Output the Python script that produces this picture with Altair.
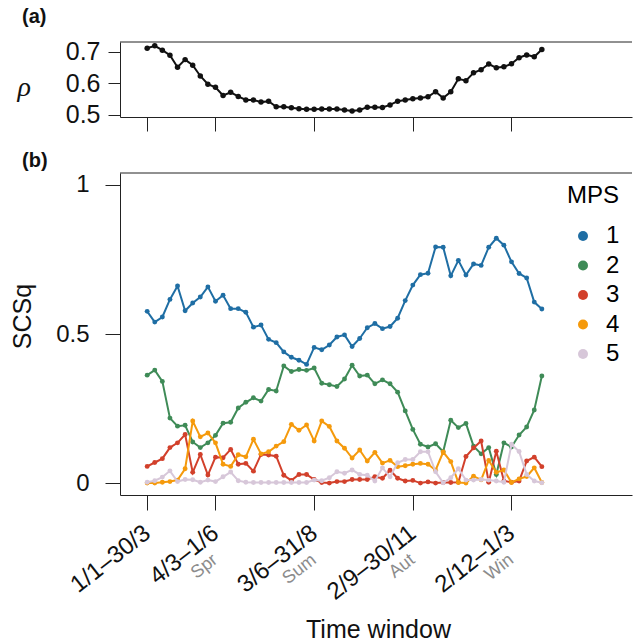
import altair as alt
import pandas as pd

# ---------------- data ----------------
idx = list(range(53))

rho = [0.711, 0.719, 0.705, 0.689, 0.651, 0.675, 0.657, 0.623, 0.597, 0.587,
       0.561, 0.571, 0.558, 0.547, 0.547, 0.540, 0.543, 0.525, 0.525, 0.522,
       0.519, 0.517, 0.517, 0.518, 0.518, 0.518, 0.515, 0.512, 0.515, 0.524,
       0.524, 0.523, 0.531, 0.543, 0.547, 0.551, 0.553, 0.557, 0.573, 0.553,
       0.573, 0.614, 0.608, 0.633, 0.643, 0.661, 0.649, 0.652, 0.662, 0.681,
       0.690, 0.684, 0.707]

mps1 = [0.576, 0.540, 0.557, 0.616, 0.661, 0.578, 0.604, 0.624, 0.658, 0.610,
        0.630, 0.585, 0.585, 0.573, 0.523, 0.530, 0.482, 0.471, 0.440, 0.422,
        0.412, 0.398, 0.455, 0.447, 0.463, 0.490, 0.497, 0.458, 0.485, 0.521,
        0.535, 0.518, 0.525, 0.553, 0.612, 0.664, 0.699, 0.704, 0.792, 0.791,
        0.695, 0.747, 0.698, 0.735, 0.730, 0.791, 0.821, 0.798, 0.742, 0.703,
        0.688, 0.607, 0.584]

mps2 = [0.362, 0.379, 0.341, 0.218, 0.191, 0.194, 0.138, 0.119, 0.135, 0.160,
        0.201, 0.204, 0.252, 0.271, 0.286, 0.275, 0.314, 0.309, 0.393, 0.374,
        0.381, 0.378, 0.386, 0.335, 0.330, 0.324, 0.349, 0.395, 0.359, 0.362,
        0.333, 0.346, 0.333, 0.305, 0.242, 0.180, 0.130, 0.121, 0.132, 0.105,
        0.211, 0.186, 0.200, 0.124, 0.098, 0.119, 0.029, 0.135, 0.121, 0.161,
        0.188, 0.245, 0.359]

mps3 = [0.056, 0.069, 0.082, 0.119, 0.135, 0.163, 0.036, 0.096, 0.027, 0.087,
        0.085, 0.113, 0.063, 0.066, 0.040, 0.096, 0.094, 0.090, 0.026, 0.009,
        0.029, 0.029, 0.012, 0.002, 0.000, 0.005, 0.005, 0.012, 0.012, 0.012,
        0.021, 0.016, 0.043, 0.016, 0.007, 0.009, 0.000, 0.004, 0.000, 0.002,
        0.002, 0.003, 0.089, 0.118, 0.141, 0.003, 0.107, 0.007, 0.003, 0.007,
        0.074, 0.087, 0.055]

mps4 = [0.000, 0.000, 0.003, 0.005, 0.010, 0.048, 0.208, 0.155, 0.168, 0.135,
        0.063, 0.056, 0.095, 0.088, 0.147, 0.098, 0.105, 0.124, 0.139, 0.197,
        0.177, 0.195, 0.141, 0.208, 0.190, 0.141, 0.117, 0.084, 0.111, 0.074,
        0.103, 0.067, 0.076, 0.055, 0.058, 0.063, 0.066, 0.063, 0.043, 0.104,
        0.072, 0.002, 0.000, 0.023, 0.011, 0.076, 0.036, 0.044, 0.002, 0.014,
        0.022, 0.051, 0.002]

mps5 = [0.003, 0.008, 0.020, 0.041, 0.005, 0.012, 0.011, 0.003, 0.010, 0.005,
        0.021, 0.037, 0.008, 0.003, 0.002, 0.002, 0.002, 0.002, 0.002, 0.002,
        0.002, 0.002, 0.010, 0.008, 0.018, 0.038, 0.033, 0.044, 0.029, 0.026,
        0.007, 0.051, 0.021, 0.068, 0.079, 0.079, 0.105, 0.105, 0.038, 0.001,
        0.018, 0.048, 0.010, 0.010, 0.012, 0.010, 0.007, 0.003, 0.130, 0.106,
        0.029, 0.007, 0.001]

mps_names = ["1", "2", "3", "4", "5"]
mps_values = [mps1, mps2, mps3, mps4, mps5]
mps_colors = ["#1f6ea4", "#3f8b57", "#d2402b", "#f59a0c", "#d7c7d9"]

tick_vals = [0, 9, 22, 35, 48]
tick_labels = ["1/1–30/3", "4/3–1/6", "3/6–31/8", "2/9–30/11", "2/12–1/3"]
season_vals = [9, 22, 35, 48]
season_labels = ["Spr", "Sum", "Aut", "Win"]

# ---------------- layout ----------------
W = 512
H_TOP = 75
H_BOT = 322
PX_PER_STEP = 7.59
XDOM = [-3.58, -3.58 + W / PX_PER_STEP]
FONT = "Liberation Sans"
FRAME = "#222222"

top_df = pd.DataFrame({"i": idx, "rho": rho})
rows = []
for name, vals in zip(mps_names, mps_values):
    for i, v in zip(idx, vals):
        rows.append({"i": i, "v": v, "mps": name})
bot_df = pd.DataFrame(rows)
season_df = pd.DataFrame({"i": season_vals, "lab": season_labels})
one = pd.DataFrame({"a": [0]})

xscale = alt.Scale(domain=XDOM, nice=False, zero=False)

# ---------------- top panel (a) ----------------
x_top = alt.X("i:Q", scale=xscale,
              axis=alt.Axis(values=tick_vals, labels=False, tickSize=14,
                            title=None, grid=False))
y_top = alt.Y("rho:Q", scale=alt.Scale(domain=[0.4927, 0.731], nice=False, zero=False),
              axis=alt.Axis(values=[0.5, 0.6, 0.7], format=".1f", tickSize=12,
                            labelPadding=8, labelFontSize=25, grid=False,
                            title="ρ", titleAngle=0, titleFont="Liberation Serif",
                            titleFontStyle="italic", titleFontWeight="normal",
                            titleFontSize=28, titleX=-103, titleY=53,
                            titleAlign="left", titleBaseline="alphabetic"))

top_border = alt.Chart(one).mark_rule(color=FRAME, strokeWidth=1).encode(
    x=alt.value(0), x2=alt.value(W), y=alt.value(0))
top_line = alt.Chart(top_df).mark_line(color="#111111", strokeWidth=2).encode(x=x_top, y=y_top)
top_pts = alt.Chart(top_df).mark_circle(color="#111111", size=30, opacity=1).encode(x=x_top, y=y_top)

top = alt.layer(top_border, top_line, top_pts).properties(
    width=W, height=H_TOP,
    title=alt.TitleParams("(a)", anchor="start", frame="group", dx=-98, offset=13,
                          fontSize=20, fontWeight="bold", font=FONT, color="#111111"))

# ---------------- bottom panel (b) ----------------
label_expr = ("[" + ",".join("'" + t + "'" for t in tick_labels) + "][indexof(["
              + ",".join(str(t) for t in tick_vals) + "], datum.value)]")
x_axis_bot = alt.Axis(values=tick_vals, labelExpr=label_expr, labelAngle=-38,
                      labelAlign="right", labelBaseline="middle", labelPadding=20,
                      labelFontSize=24, labelOverlap=False, labelFlush=False,
                      tickSize=15, grid=False,
                      title="Time window", titleFontSize=25, titleFontWeight="normal",
                      titleBaseline="middle", titleY=134, titleX=W / 2 + 2)
x_bot = alt.X("i:Q", scale=xscale, axis=x_axis_bot)
y_bot = alt.Y("v:Q", scale=alt.Scale(domain=[-0.04, 1.04], nice=False, zero=False),
              axis=alt.Axis(values=[0, 0.5, 1], format="~g", tickSize=15, labelPadding=16,
                            labelFontSize=24, grid=False,
                            title="SCSq", titleFontSize=25, titleFontWeight="normal",
                            titleAngle=270, titleX=-90, titleY=143,
                            titleAlign="center", titleBaseline="alphabetic"))
cscale = alt.Scale(domain=mps_names, range=mps_colors)
# legend coordinates are relative to the top panel's origin (top-level group)
legend = alt.Legend(title="MPS", orient="none", legendX=447, legendY=142,
                    titleFontSize=24, titleFontWeight="normal", titleFont=FONT,
                    titleAnchor="end", titleAlign="right", titlePadding=16,
                    labelFontSize=24, labelFont=FONT, labelOffset=11,
                    symbolType="circle", symbolSize=100, symbolOpacity=1,
                    symbolStrokeWidth=0, rowPadding=5.5)
color_enc = alt.Color("mps:N", scale=cscale, legend=legend)

layers = [alt.Chart(one).mark_rule(color=FRAME, strokeWidth=1).encode(
    x=alt.value(0), x2=alt.value(W), y=alt.value(0))]
for name in mps_names:
    sub = bot_df[bot_df["mps"] == name]
    layers.append(alt.Chart(sub).mark_line(strokeWidth=2).encode(
        x=x_bot, y=y_bot, color=color_enc))
    layers.append(alt.Chart(sub).mark_circle(size=24, opacity=1).encode(
        x=x_bot, y=y_bot, color=color_enc))

season = alt.Chart(season_df).mark_text(
    angle=322, align="right", baseline="middle", fontSize=18, color="#8c8c8c", font=FONT
).encode(x=x_bot, y=alt.value(H_BOT + 63), text="lab:N")
layers.append(season)

bottom = alt.layer(*layers).properties(
    width=W, height=H_BOT,
    title=alt.TitleParams("(b)", anchor="start", frame="group", dx=-98, offset=2,
                          fontSize=20, fontWeight="bold", font=FONT, color="#111111"))

chart = alt.vconcat(top, bottom, spacing=56, bounds="flush").properties(
    padding={"left": 10, "top": 6, "right": 0, "bottom": 0}
).configure(font=FONT).configure_view(stroke=None).configure_axis(
    domainColor=FRAME, tickColor=FRAME, labelColor="#111111", titleColor="#111111",
    labelFont=FONT, titleFont=FONT, domainWidth=1, tickWidth=1
)

chart.save("out.html", embed_options={"renderer": "svg", "actions": False})
